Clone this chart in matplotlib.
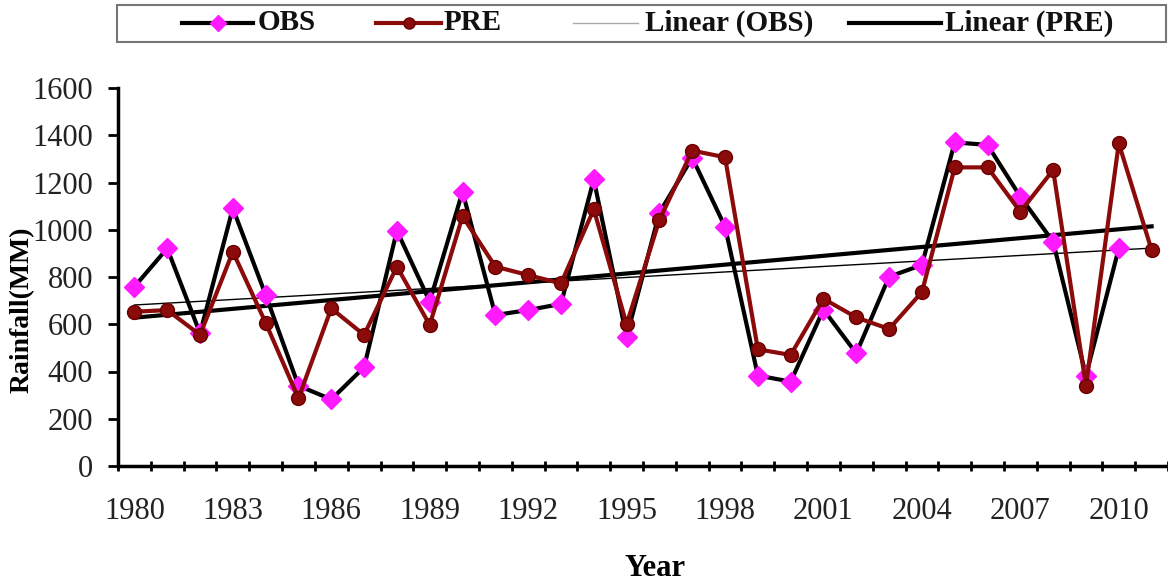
import numpy as np
import matplotlib
matplotlib.use("Agg")
import matplotlib.pyplot as plt
from matplotlib.ticker import FixedLocator, NullFormatter
from matplotlib.lines import Line2D
from matplotlib.patches import Rectangle

years = list(range(1980, 2012))
obs = [759, 921, 562, 1091, 724, 340, 282, 418, 996, 696,
       1161, 639, 660, 686, 1213, 547, 1072, 1305, 1013, 383,
       357, 662, 477, 801, 851, 1370, 1359, 1140, 949, 383,
       921, np.nan]
pre = [653, 660, 555, 907, 606, 287, 667, 555, 844, 597,
       1057, 844, 808, 773, 1086, 600, 1041, 1335, 1307, 494,
       470, 708, 629, 580, 736, 1264, 1264, 1076, 1253, 339,
       1366, 914]
yticks = [0, 200, 400, 600, 800, 1000, 1200, 1400, 1600]
xlabels = list(range(1980, 2011, 3))
legend_labels = ['OBS', 'PRE', 'Linear (OBS)', 'Linear (PRE)']

plt.rcParams['font.family'] = ['Liberation Serif', 'DejaVu Serif']

W, H = 1168, 581
fig = plt.figure(figsize=(W/100, H/100), dpi=100)
ax = fig.add_axes([118/W, 1 - 466/H, 1 - 118/W, (466 - 88)/H])

x = np.array(years, dtype=float)
o = np.array(obs, dtype=float)
p = np.array(pre, dtype=float)

m_o = ~np.isnan(o)
co = np.polyfit(x[m_o], o[m_o], 1)
cp = np.polyfit(x, p, 1)

OBS_C = '#ff1aff'
PRE_C = '#8b0a0a'

ax.plot(x, np.polyval(co, x), color='black', lw=1.0, zorder=2)
ax.plot(x, np.polyval(cp, x), color='black', lw=3.0, zorder=2)
ax.plot(x, o, color='black', lw=3, marker='D', markersize=10,
        markerfacecolor=OBS_C, markeredgecolor=OBS_C, zorder=3)
ax.plot(x, p, color=PRE_C, lw=3, marker='o', markersize=10,
        markerfacecolor=PRE_C, markeredgecolor='#6a0000', zorder=4)

ax.set_xlim(1979.5, 2011.5)
ax.set_ylim(0, 1600)
ax.set_yticks(yticks)
ax.set_yticklabels([str(v) for v in yticks], fontsize=22, color='#222222')
ax.set_xticks(xlabels)
ax.set_xticklabels([str(v) for v in xlabels], fontsize=22, color='#222222')
ax.tick_params(axis='x', which='major', length=0, pad=22)
ax.xaxis.set_minor_locator(FixedLocator(np.arange(1979.5, 2012, 1.0)))
ax.xaxis.set_minor_formatter(NullFormatter())
ax.tick_params(axis='x', which='minor', length=7, width=2, direction='inout')
ax.tick_params(axis='y', which='major', length=7, width=2, direction='out', pad=11)

for s in ['top', 'right']:
    ax.spines[s].set_visible(False)
for s in ['left', 'bottom']:
    ax.spines[s].set_linewidth(2.5)

fig.text(22/W, 1 - 310/H, 'Rainfall(MM)', rotation=90, ha='center',
         va='center', fontsize=20, fontweight='bold')
fig.text(655/W, 1 - 568/H, 'Year', ha='center', va='center',
         fontsize=22, fontweight='bold')

# legend box drawn manually across the top
fig.add_artist(Rectangle((117/W, 1 - 42/H), (1166 - 117)/W, 37/H,
                         transform=fig.transFigure, fill=False,
                         edgecolor='#777777', lw=1.5))
yl = 1 - 23/H
specs = [
    (182, 253, dict(color='black', lw=3), dict(marker='D', ms=8, mfc=OBS_C, mec=OBS_C), 258),
    (376, 441, dict(color=PRE_C, lw=3), dict(marker='o', ms=8, mfc=PRE_C, mec='#6a0000'), 444),
    (573, 638, dict(color='#aaaaaa', lw=1), None, 645),
    (849, 941, dict(color='black', lw=3), None, 945),
]
for (x0, x1, lkw, mkw, tx), lab in zip(specs, legend_labels):
    fig.add_artist(Line2D([x0/W, x1/W], [yl, yl], transform=fig.transFigure, **lkw))
    if mkw:
        fig.add_artist(Line2D([(x0 + x1)/2/W], [yl], transform=fig.transFigure,
                              linestyle='none', **mkw))
    fig.text(tx/W, yl, lab, ha='left', va='center', fontsize=21,
             fontweight='bold', color='#111111')

fig.savefig('out.png', dpi=100)
